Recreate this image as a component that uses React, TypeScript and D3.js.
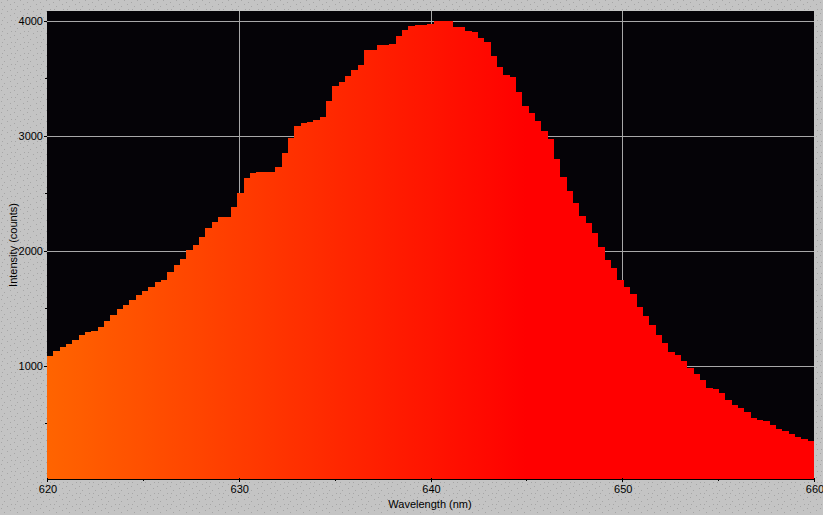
import React, { useRef, useEffect } from 'react';
import * as d3 from 'd3';

// Spectrum counts, one value per detector bin (121 bins from 620 to 660 nm)
const COUNTS: number[] = [
  1089, 1130, 1166, 1192, 1226, 1270, 1296, 1304, 1339, 1391,
  1444, 1496, 1530, 1574, 1617, 1652, 1687, 1731, 1748, 1818,
  1878, 1930, 2009, 2053, 2122, 2200, 2252, 2296, 2296, 2383,
  2504, 2635, 2678, 2687, 2687, 2687, 2730, 2852, 2982, 3086,
  3112, 3120, 3138, 3165, 3304, 3434, 3469, 3521, 3574, 3618,
  3749, 3749, 3792, 3792, 3801, 3870, 3922, 3957, 3966, 3966,
  3974, 4000, 4000, 4000, 3948, 3948, 3914, 3905, 3853, 3818,
  3697, 3600, 3531, 3513, 3383, 3262, 3200, 3130, 3044, 2974,
  2801, 2645, 2523, 2419, 2305, 2245, 2158, 2037, 1922, 1852,
  1748, 1687, 1625, 1513, 1435, 1356, 1270, 1200, 1122, 1095,
  1043, 983, 931, 879, 809, 801, 765, 704, 661, 635,
  600, 548, 531, 522, 488, 453, 436, 410, 384, 366,
  349,
];

const WL_START = 620;
const WL_END = 660;
const X_TICKS = [620, 630, 640, 650, 660];
const X_MINOR = [625, 635, 645, 655];
const Y_TICKS = [1000, 2000, 3000, 4000];
const Y_MINOR = [500, 1500, 2500, 3500];
const Y_DOMAIN: [number, number] = [17, 4087];

const W = 823;
const H = 515;
const PLOT = { left: 47, right: 814, top: 11, bottom: 479 };

export default function App() {
  const svgRef = useRef<SVGSVGElement>(null);

  useEffect(() => {
    if (!svgRef.current) return;
    const svg = d3.select(svgRef.current);
    svg.selectAll('*').remove();

    const font = '"Liberation Sans", Arial, sans-serif';

    // Dotted grey background texture
    const defs = svg.append('defs');
    const pat = defs.append('pattern').attr('id', 'bgdots').attr('patternUnits', 'userSpaceOnUse')
      .attr('width', 13).attr('height', 11);
    pat.append('rect').attr('width', 13).attr('height', 11).attr('fill', '#c4c4c4');
    [[1, 2], [7, 0], [4, 6], [10, 4], [11, 9], [2, 9]].forEach(([px, py]) => {
      pat.append('rect').attr('x', px).attr('y', py).attr('width', 1).attr('height', 1).attr('fill', '#a6a6a6');
    });

    const x = d3.scaleLinear().domain([WL_START, WL_END]).range([PLOT.left, PLOT.right]);
    const y = d3.scaleLinear().domain(Y_DOMAIN).range([PLOT.bottom, PLOT.top]);

    // Colour follows wavelength: orange at 620 nm fading to pure red by 645 nm
    const grad = defs.append('linearGradient').attr('id', 'specgrad')
      .attr('gradientUnits', 'userSpaceOnUse')
      .attr('x1', x(620)).attr('x2', x(645)).attr('y1', 0).attr('y2', 0);
    grad.append('stop').attr('offset', 0).attr('stop-color', '#ff6400');
    grad.append('stop').attr('offset', 1).attr('stop-color', '#ff0000');

    svg.append('rect').attr('width', W).attr('height', H).attr('fill', 'url(#bgdots)');

    // Plot background
    svg.append('rect')
      .attr('x', PLOT.left).attr('y', PLOT.top)
      .attr('width', PLOT.right - PLOT.left).attr('height', PLOT.bottom - PLOT.top)
      .attr('fill', '#050307');

    // Grid
    const grid = svg.append('g').attr('stroke', '#a8a8a8').attr('stroke-width', 1);
    Y_TICKS.forEach(t => {
      grid.append('line').attr('x1', PLOT.left).attr('x2', PLOT.right)
        .attr('y1', Math.round(y(t)) + 0.5).attr('y2', Math.round(y(t)) + 0.5);
    });
    X_TICKS.slice(1, -1).forEach(t => {
      grid.append('line').attr('y1', PLOT.top).attr('y2', PLOT.bottom)
        .attr('x1', Math.round(x(t)) + 0.5).attr('x2', Math.round(x(t)) + 0.5);
    });

    // Step-shaped spectrum
    const binW = (WL_END - WL_START) / COUNTS.length;
    const pts = COUNTS.map((v, i) => ({ wl: WL_START + i * binW, v }));
    pts.push({ wl: WL_END, v: COUNTS[COUNTS.length - 1] });
    const area = d3.area<{ wl: number; v: number }>()
      .x(d => x(d.wl))
      .y0(PLOT.bottom)
      .y1(d => Math.round(y(d.v)))
      .curve(d3.curveStepAfter);
    svg.append('path').datum(pts).attr('d', area)
      .attr('fill', 'url(#specgrad)').attr('shape-rendering', 'crispEdges');

    // X axis
    const ax = svg.append('g').attr('stroke', '#000').attr('shape-rendering', 'crispEdges');
    ax.append('line').attr('x1', PLOT.left).attr('x2', PLOT.right + 1)
      .attr('y1', PLOT.bottom + 0.5).attr('y2', PLOT.bottom + 0.5);
    X_TICKS.forEach(t => {
      const px = Math.round(x(t)) + 0.5;
      ax.append('line').attr('x1', px).attr('x2', px).attr('y1', PLOT.bottom - 1).attr('y2', PLOT.bottom + 3);
    });
    X_MINOR.forEach(t => {
      const px = Math.round(x(t)) + 0.5;
      ax.append('line').attr('x1', px).attr('x2', px).attr('y1', PLOT.bottom).attr('y2', PLOT.bottom + 2);
    });
    X_TICKS.forEach(t => {
      svg.append('text').attr('x', x(t) + 1).attr('y', 493).attr('text-anchor', 'middle')
        .attr('font-family', font).attr('font-size', '11px').attr('fill', '#000').text(String(t));
    });
    svg.append('text').attr('x', 430).attr('y', 508).attr('text-anchor', 'middle')
      .attr('font-family', font).attr('font-size', '11px').attr('fill', '#000').text('Wavelength (nm)');

    // Y axis
    Y_TICKS.forEach(t => {
      const py = Math.round(y(t)) + 0.5;
      ax.append('line').attr('x1', PLOT.left - 3).attr('x2', PLOT.left).attr('y1', py).attr('y2', py);
      svg.append('text').attr('x', 43).attr('y', y(t) + 4).attr('text-anchor', 'end')
        .attr('font-family', font).attr('font-size', '11px').attr('fill', '#000').text(String(t));
    });
    Y_MINOR.forEach(t => {
      const py = Math.round(y(t)) + 0.5;
      ax.append('line').attr('x1', PLOT.left - 2).attr('x2', PLOT.left).attr('y1', py).attr('y2', py);
    });
    svg.append('text').attr('transform', `translate(17,${(PLOT.top + PLOT.bottom) / 2}) rotate(-90)`)
      .attr('text-anchor', 'middle').attr('font-family', font).attr('font-size', '11px')
      .attr('fill', '#000').text('Intensity (counts)');
  }, []);

  return (
    <svg ref={svgRef} width={W} height={H}
      style={{ position: 'absolute', left: 0, top: 0, display: 'block' }} />
  );
}
